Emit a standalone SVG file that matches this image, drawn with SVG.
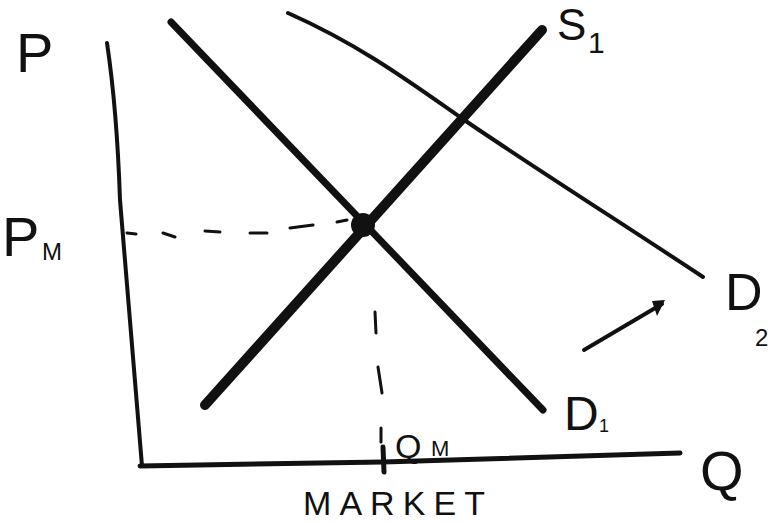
<svg xmlns="http://www.w3.org/2000/svg" width="771" height="523" viewBox="0 0 771 523">
<style>
.ln{fill:none;stroke:#111;stroke-linecap:round;stroke-linejoin:round}
.lbl{font-family:"Liberation Sans","DejaVu Sans",sans-serif;fill:#111}
</style>
<rect width="771" height="523" fill="#fff"/>
<g id="connectors">
<path id="axis-p" class="ln" stroke-width="4" d="M107,43 Q117,110 120,200 L142,466"/>
<path id="axis-q" class="ln" stroke-width="5" d="M140,466 L383,462 L680,453"/>
<path id="supply-s1" class="ln" stroke-width="10" d="M205,405 L542,30"/>
<path id="demand-d1" class="ln" stroke-width="7" d="M171,22 L543,410"/>
<path id="demand-d2" class="ln" stroke-width="4" d="M288,13 C360,45 410,82 460,117 S640,235 703,277"/>
<path id="pm-dash" class="ln" stroke-width="3" d="M127,233 L136,234 M163,233 L175,237 M205,231 L220,232 M250,233 L267,233 M290,228 L313,225 M337,222 L347,220"/>
<path id="qm-dash" class="ln" stroke-width="3" d="M375,312 L376,333 M378,367 L382,393 M381,428 L381,442"/>
<path id="qm-tick" class="ln" stroke-width="5" d="M383,447 L384,472"/>
<path id="shift-arrow" class="ln" stroke-width="4" d="M584,350 L662,304"/>
<path id="shift-arrowhead" fill="#111" d="M665,300 L652,301 L657,316 Z"/>
</g>
<g id="equilibrium"><circle cx="363" cy="225" r="12" fill="#111"/></g>
<g id="label-p"><text class="lbl" x="16" y="72" font-size="56">P</text></g>
<g id="label-pm"><text class="lbl" x="2" y="256" font-size="56">P</text><text class="lbl" x="42" y="260" font-size="24">M</text></g>
<g id="label-s1"><text class="lbl" x="557" y="40" font-size="44">S</text><text class="lbl" x="588" y="53" font-size="30">1</text></g>
<g id="label-d2"><text class="lbl" x="725" y="310" font-size="52">D</text><text class="lbl" x="755" y="346" font-size="24">2</text></g>
<g id="label-d1"><text class="lbl" x="564" y="430" font-size="48">D</text><text class="lbl" x="599" y="432" font-size="18">1</text></g>
<g id="label-q"><text class="lbl" x="700" y="490" font-size="56">Q</text></g>
<g id="label-qm"><text class="lbl" x="395" y="458" font-size="34">Q</text><text class="lbl" x="431" y="456" font-size="22">M</text></g>
<g id="label-market"><text class="lbl" x="303" y="515" font-size="34" textLength="182" lengthAdjust="spacing">MARKET</text></g>
</svg>
